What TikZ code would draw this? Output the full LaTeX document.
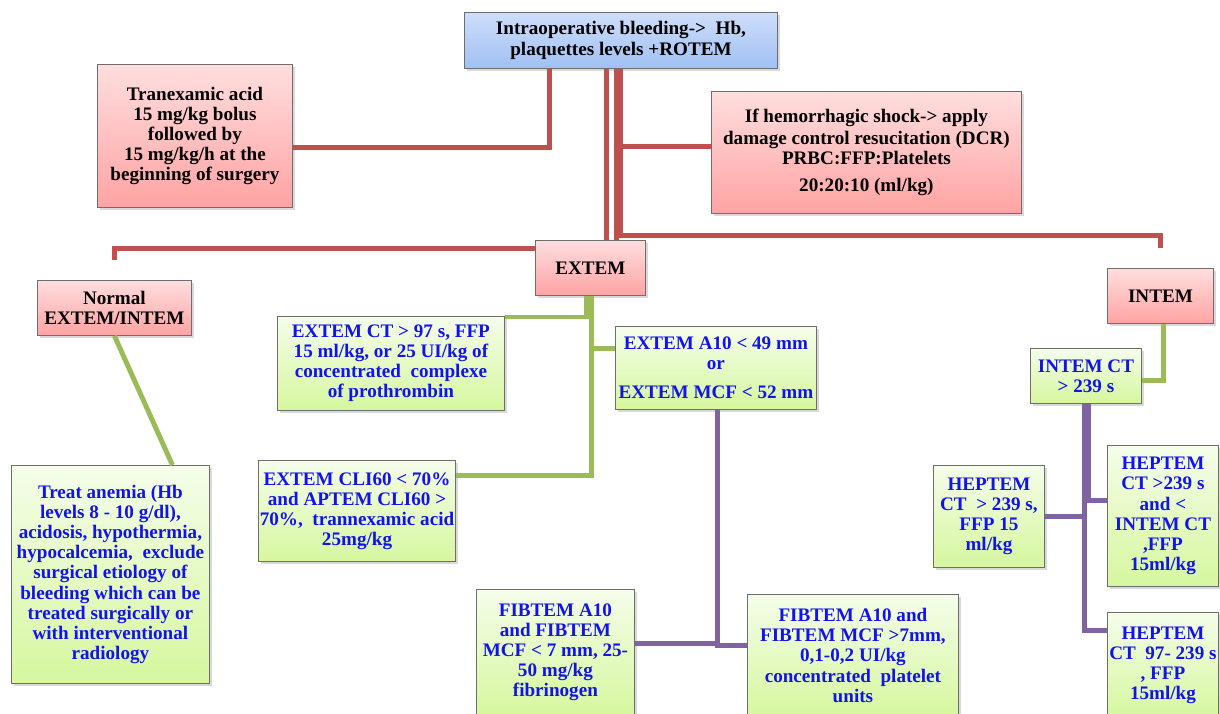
\documentclass[tikz,border=0pt]{standalone}
\usepackage{fontspec}
\setmainfont{Liberation Serif}
\usetikzlibrary{shadows,positioning}

\definecolor{pinktop}{RGB}{255,222,222}
\definecolor{pinkbot}{RGB}{255,163,163}
\definecolor{bluetop}{RGB}{206,222,250}
\definecolor{bluebot}{RGB}{160,192,243}
\definecolor{greentop}{RGB}{245,253,234}
\definecolor{greenbot}{RGB}{214,247,158}
\definecolor{boxgray}{RGB}{110,110,110}
\definecolor{textblue}{RGB}{18,18,235}
\definecolor{linered}{RGB}{192,80,77}
\definecolor{linegreen}{RGB}{155,187,89}
\definecolor{linepurple}{RGB}{128,100,162}

\newcommand{\upx}{0.025cm}
\newcommand{\boxfont}{\fontsize{13.6}{14.3}\selectfont\bfseries}

\begin{document}
\begin{tikzpicture}[x=0.025cm, y=-0.025cm,
    box/.style={rectangle, draw=boxgray, line width=0.6pt, anchor=north west, align=center, inner sep=1pt, font=\boxfont,
        drop shadow={shadow xshift=1.5pt, shadow yshift=-2pt, opacity=0.3}},
    redbox/.style={box, top color=pinktop, bottom color=pinkbot},
    bluebox/.style={box, top color=bluetop, bottom color=bluebot},
    greenbox/.style={box, top color=greentop, bottom color=greenbot, text=textblue},
    wh/.style 2 args={minimum width=#1*\upx, minimum height=#2*\upx},
    redline/.style={draw=linered, line width=3.5pt},
    greenline/.style={draw=linegreen, line width=3.5pt},
    purpleline/.style={draw=linepurple, line width=3.5pt},
]
\clip (0,0) rectangle (1220,714);

% ROTEM start
\node[bluebox, wh={313}{56}] (top) at (464,12) {Intraoperative bleeding->\ \ Hb,\\plaquettes levels +ROTEM};

% red boxes
\node[redbox, wh={195}{143}] (tranex) at (97,64) {Tranexamic acid\\15 mg/kg bolus\\followed by\\15 mg/kg/h at the\\beginning of surgery};
\node[redbox, wh={310}{122}] (dcr) at (711,91) {If hemorrhagic shock-> apply\\[1pt]damage control resucitation (DCR)\\PRBC:FFP:Platelets\\[5pt]20:20:10 (ml/kg)};
\node[redbox, wh={110}{55}] (extem) at (535,240) {EXTEM};
\node[redbox, wh={154}{55}] (normal) at (37,280) {Normal\\EXTEM/INTEM};
\node[redbox, wh={106}{55}] (intem) at (1107,268) {INTEM};

% EXTEM branch
\node[greenbox, wh={227}{94}] (ctbox) at (277,316) {EXTEM CT > 97 s, FFP\\15 ml/kg, or 25 UI/kg of\\concentrated\ \ complexe\\of prothrombin};
\node[greenbox, wh={201}{83}] (a10) at (615,326) {EXTEM A10 < 49 mm\\or\\[6pt]EXTEM MCF < 52 mm};
\node[greenbox, wh={196}{101}] (cli) at (258,460) {EXTEM CLI60 < 70\%\\and APTEM CLI60 >\\70\%,\ \ trannexamic acid\\25mg/kg};
\node[greenbox, wh={158}{126}] (fibL) at (476,589) {FIBTEM A10\\and FIBTEM\\MCF < 7 mm, 25-\\50 mg/kg\\fibrinogen};
\node[greenbox, wh={211}{122}] (fibR) at (747,594) {FIBTEM A10 and\\FIBTEM MCF >7mm,\\0,1-0,2 UI/kg\\concentrated\ \ platelet\\units};

% normal branch
\node[greenbox, wh={198}{218}] (anemia) at (11,465) {Treat anemia (Hb\\levels 8 - 10 g/dl),\\acidosis, hypothermia,\\hypocalcemia,\ \ exclude\\surgical etiology of\\bleeding which can be\\treated surgically or\\with interventional\\radiology};

% INTEM branch
\node[greenbox, wh={111}{55}] (intemct) at (1030,348) {INTEM CT\\> 239 s};
\node[greenbox, wh={111}{102}] (hepA) at (933,465) {HEPTEM\\CT\ \ > 239 s,\\FFP 15\\ml/kg};
\node[greenbox, wh={111}{141}] (hepB) at (1107,445) {HEPTEM\\CT >239 s\\and <\\INTEM CT\\,FFP\\15ml/kg};
\node[greenbox, wh={111}{106}] (hepC) at (1107,612) {HEPTEM\\CT\ \ 97- 239 s\\, FFP\\15ml/kg};

% red connectors
\coordinate (t1) at ([xshift=-71.5*\upx]top.south);
\draw[redline] (t1) |- ([yshift=-11.5*\upx]tranex.east);
\coordinate (e1) at ([xshift=16*\upx]extem.north);
\draw[redline] (e1) -- (e1 |- top.south);
\coordinate (e2) at ([xshift=26*\upx]extem.north);
\draw[redline] (e2) -- (e2 |- top.south);
\draw[redline] (top.south) -- ++(0,167) -| ([yshift=20*\upx]intem.north);
\coordinate (d1) at ([yshift=6*\upx]dcr.west);
\draw[redline] (d1) -- (d1 -| top.south);
\draw[redline] ([yshift=19.5*\upx]extem.west) -| ([yshift=20*\upx]normal.north);

% green connectors
\draw[greenline] ([xshift=-4*\upx]extem.south) |- ([yshift=-1*\upx]ctbox.north east);
\draw[greenline] ([xshift=1*\upx]extem.south) |- ([yshift=35.5*\upx]cli.east);
\coordinate (g3) at ([yshift=19.5*\upx]a10.west);
\draw[greenline] (g3) -- (g3 -| extem.south);
\draw[greenline] (normal.south) -- ([xshift=62*\upx]anemia.north);
\draw[greenline] ([xshift=3*\upx]intem.south) |- ([yshift=-4.5*\upx]intemct.east);

% purple connectors
\draw[purpleline] ([xshift=1.5*\upx]a10.south) |- ([yshift=10*\upx]fibR.west);
\coordinate (p2) at ([yshift=9*\upx]fibL.east);
\draw[purpleline] (p2) -- (p2 -| a10.south);
\draw[purpleline] ([xshift=3*\upx]intemct.south) |- ([yshift=15*\upx]hepB.west);
\draw[purpleline] ([xshift=-1*\upx]intemct.south) |- (hepA.east);
\draw[purpleline] ([xshift=-1*\upx]intemct.south) |- ([yshift=35*\upx]hepC.west);

\end{tikzpicture}
\end{document}
